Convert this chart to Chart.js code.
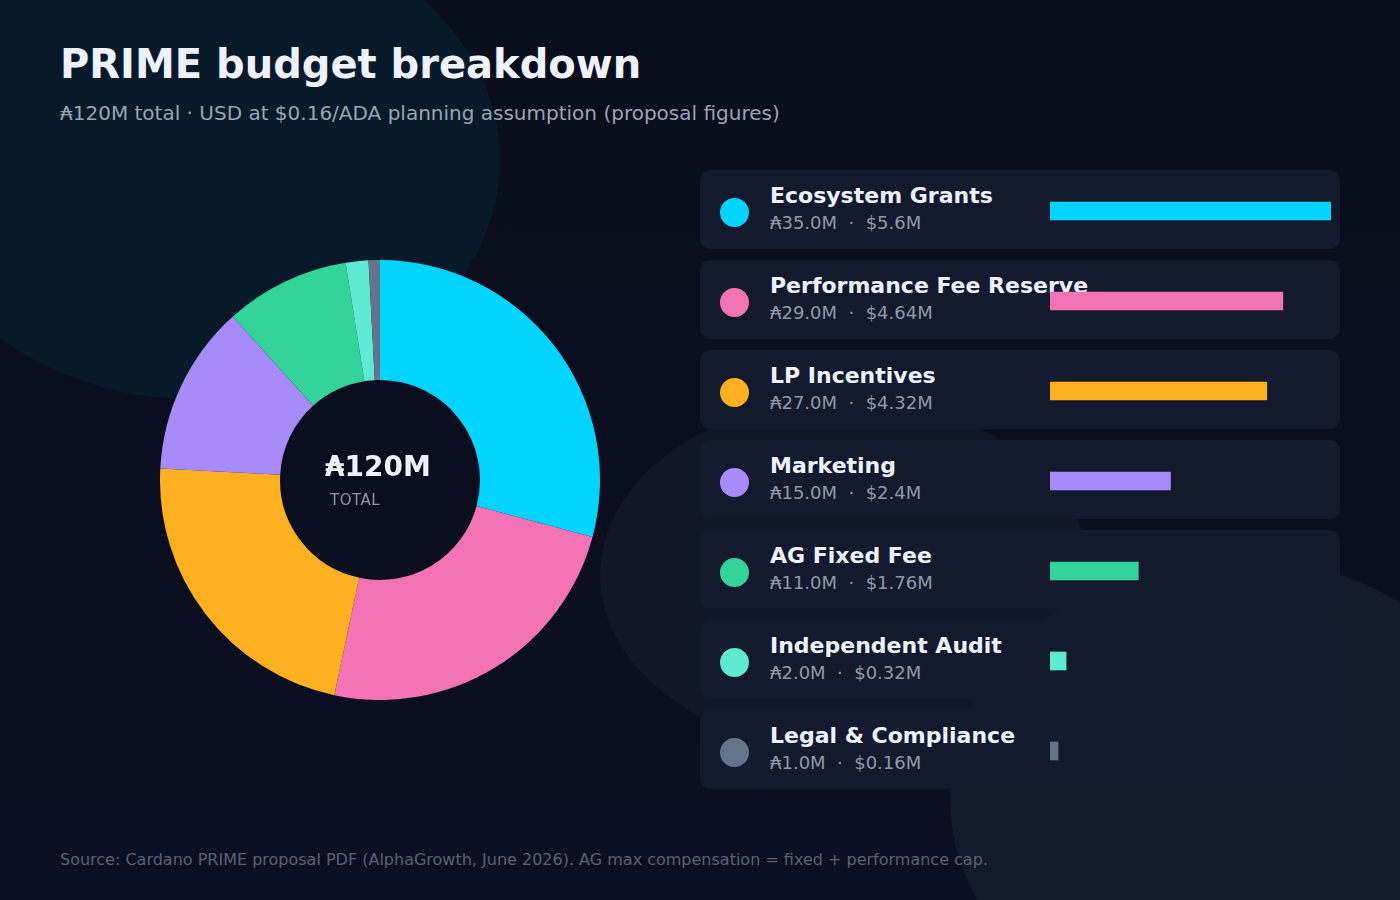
<!DOCTYPE html>
<html>
<head>
<meta charset="utf-8">
<script src="https://cdn.jsdelivr.net/npm/chart.js@4.4.1/dist/chart.umd.min.js"></script>
<style>
  html, body { margin:0; padding:0; }
  body { width:1400px; height:900px; position:relative; overflow:hidden;
    background: linear-gradient(180deg, #0a0d1b 0%, #0b0e1f 60%, #0c0f23 100%);
    font-family: "DejaVu Sans", sans-serif; }
  .blob { position:absolute; border-radius:50%; }
  #b1 { left:-100px; top:-80px; width:600px; height:480px; background:#081a29; }
  #b2 { left:600px; top:400px; width:490px; height:350px; background:#121629; }
  #b3 { left:950px; top:558px; width:570px; height:480px; background:#131a2c; }
  #title { position:absolute; left:60px; top:44px; font-size:40px; line-height:40px; font-weight:bold; color:#eef2ff; white-space:nowrap; }
  #subtitle { position:absolute; left:60px; top:103px; font-size:20px; line-height:20px; color:#9aa4b8; white-space:nowrap; }
  #donutWrap { position:absolute; left:160px; top:260px; width:440px; height:440px; }
  #centerVal { position:absolute; left:325px; top:453px; font-size:28px; line-height:28px; font-weight:bold; color:#eef2ff; white-space:nowrap; }
  #centerLbl { position:absolute; left:330px; top:493px; font-size:15px; line-height:15px; color:#8c96aa; letter-spacing:0.5px; }
  .card { position:absolute; left:700px; width:640px; height:79px; background:#131a2d; border-radius:10px; }
  .dot { position:absolute; left:20px; top:28px; width:29px; height:29px; border-radius:50%; }
  .ct { position:absolute; left:70px; top:15px; font-size:22px; line-height:22px; font-weight:bold; color:#eef2ff; white-space:nowrap; }
  .cs { position:absolute; left:70px; top:44px; font-size:18px; line-height:18px; color:#8f99ae; white-space:nowrap; }
  #barWrap { position:absolute; left:1050px; top:166px; width:281px; height:630px; z-index:5; pointer-events:none; }
  #footer { position:absolute; left:60px; top:852px; font-size:16px; line-height:16px; color:#586278; white-space:nowrap; }
</style>
</head>
<body>
<div class="blob" id="b1"></div>
<div class="blob" id="b2"></div>
<div class="blob" id="b3"></div>

<div id="title">PRIME budget breakdown</div>
<div id="subtitle">₳120M total · USD at $0.16/ADA planning assumption (proposal figures)</div>

<div id="donutWrap"><canvas id="donut"></canvas></div>
<div id="centerVal">₳120M</div>
<div id="centerLbl">TOTAL</div>

<div id="cards"></div>
<div id="barWrap"><canvas id="bars"></canvas></div>

<div id="footer">Source: Cardano PRIME proposal PDF (AlphaGrowth, June 2026). AG max compensation = fixed + performance cap.</div>

<script>
const categories = ["Ecosystem Grants", "Performance Fee Reserve", "LP Incentives", "Marketing", "AG Fixed Fee", "Independent Audit", "Legal & Compliance"];
const adaMillions = [35, 29, 27, 15, 11, 2, 1];
const usdLabels = ["$5.6M", "$4.64M", "$4.32M", "$2.4M", "$1.76M", "$0.32M", "$0.16M"];
const colors = ["#00d4ff", "#f472b6", "#ffb020", "#a78bfa", "#34d399", "#5eead4", "#64748b"];

// legend cards
const cardsEl = document.getElementById('cards');
categories.forEach((name, i) => {
  const c = document.createElement('div');
  c.className = 'card';
  c.style.top = (170 + i * 90) + 'px';
  const d = document.createElement('div'); d.className = 'dot'; d.style.background = colors[i];
  const t = document.createElement('div'); t.className = 'ct'; t.textContent = name;
  const s = document.createElement('div'); s.className = 'cs';
  s.innerHTML = '₳' + adaMillions[i].toFixed(1) + 'M&nbsp;&nbsp;·&nbsp;&nbsp;' + usdLabels[i];
  c.appendChild(d); c.appendChild(t); c.appendChild(s);
  cardsEl.appendChild(c);
});

Chart.defaults.font.family = '"DejaVu Sans", sans-serif';

new Chart(document.getElementById('donut'), {
  type: 'doughnut',
  data: { labels: categories, datasets: [{ data: adaMillions, backgroundColor: colors, borderWidth: 0, hoverOffset: 0 }] },
  options: {
    responsive: true, maintainAspectRatio: false, animation: false,
    cutout: '45.45%',
    layout: { padding: 0 },
    plugins: { legend: { display: false }, tooltip: { enabled: false } }
  }
});

new Chart(document.getElementById('bars'), {
  type: 'bar',
  data: { labels: categories, datasets: [{ data: adaMillions, backgroundColor: colors, borderWidth: 0, barThickness: 18 }] },
  options: {
    indexAxis: 'y',
    responsive: true, maintainAspectRatio: false, animation: false,
    layout: { padding: 0 },
    scales: {
      x: { display: false, min: 0, max: 35 },
      y: { display: false }
    },
    plugins: { legend: { display: false }, tooltip: { enabled: false } }
  }
});
</script>
</body>
</html>
